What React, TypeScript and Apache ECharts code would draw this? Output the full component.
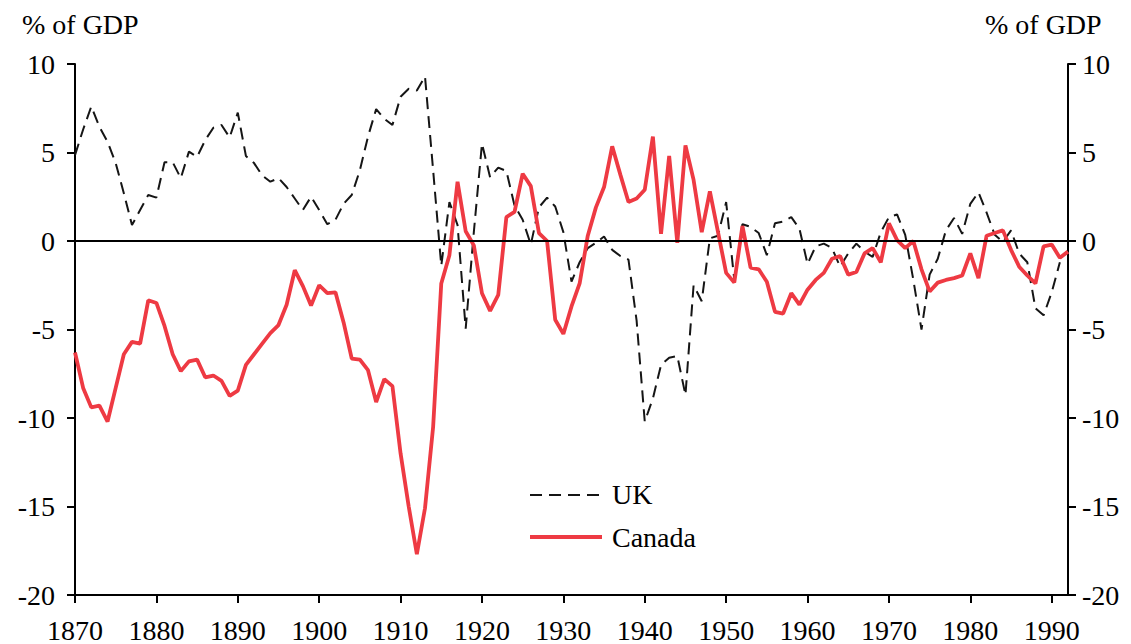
import React, { useEffect, useRef } from "react";
import * as echarts from "echarts";

const START_YEAR = 1870;
const X_MIN = 1870;
const X_MAX = 1992;

// UK current account, % of GDP, 1870-1991
const ukValues = [
  4.85, 6.3, 7.6, 6.45, 5.6, 4.4, 2.7, 0.9, 1.75, 2.6,
  2.45, 4.45, 4.45, 3.55, 5.05, 4.75, 5.7, 6.4, 6.55, 5.85,
  7.25, 4.8, 4.4, 3.7, 3.35, 3.55, 3.05, 2.4, 1.75, 2.5,
  1.75, 0.95, 1.2, 2.1, 2.6, 4.0, 5.9, 7.45, 6.9, 6.55,
  8.15, 8.6, 8.5, 9.3, 4.0, -1.4, 2.2, 0.9, -4.95, 0.5,
  5.5, 3.6, 4.15, 3.95, 2.0, 1.2, -0.2, 1.9, 2.45, 1.95,
  0.5, -2.3, -1.2, -0.4, -0.1, 0.25, -0.5, -0.85, -1.05, -4.5,
  -10.2, -8.9, -7.0, -6.6, -6.5, -8.7, -2.5, -3.4, 0.15, 0.3,
  2.2, -2.2, 0.95, 0.8, 0.45, -0.8, 1.0, 1.1, 1.35, 0.7,
  -1.3, -0.3, -0.15, -0.4, -1.45, -0.7, -0.15, -0.6, -0.9, 0.5,
  1.35, 1.5, 0.35, -2.2, -5.0, -1.9, -1.0, 0.6, 1.3, 0.4,
  2.1, 2.75, 1.6, 0.35, -0.05, 0.6, -0.7, -1.2, -3.8, -4.2,
  -2.9, -1.2,
];

// Canada current account, % of GDP, 1870-1992
const canadaValues = [
  -6.3, -8.3, -9.4, -9.3, -10.2, -8.3, -6.4, -5.7, -5.8, -3.35,
  -3.5, -4.8, -6.4, -7.35, -6.8, -6.7, -7.7, -7.6, -7.9, -8.75,
  -8.45, -7.0, -6.4, -5.8, -5.2, -4.75, -3.6, -1.65, -2.55, -3.65,
  -2.5, -2.95, -2.9, -4.6, -6.65, -6.7, -7.3, -9.1, -7.8, -8.2,
  -12.0, -15.0, -17.7, -15.1, -10.5, -2.4, -0.8, 3.35, 0.55, -0.25,
  -2.95, -3.95, -3.05, 1.35, 1.65, 3.8, 3.1, 0.45, 0.0, -4.45,
  -5.25, -3.7, -2.4, 0.3, 1.9, 3.05, 5.35, 3.75, 2.2, 2.4,
  2.9, 5.9, 0.4, 4.8, -0.1, 5.4, 3.45, 0.5, 2.8, 0.5,
  -1.8, -2.35, 0.85, -1.5, -1.6, -2.3, -4.0, -4.1, -2.95, -3.6,
  -2.75, -2.2, -1.8, -1.0, -0.85, -1.9, -1.75, -0.7, -0.4, -1.2,
  1.0, 0.05, -0.4, 0.0, -1.6, -2.85, -2.35, -2.2, -2.1, -1.95,
  -0.7, -2.1, 0.3, 0.45, 0.6, -0.5, -1.45, -1.95, -2.4, -0.3,
  -0.2, -0.95, -0.6,
];

const xTickYears = [1870, 1880, 1890, 1900, 1910, 1920, 1930, 1940, 1950, 1960, 1970, 1980, 1990];
const yMin = -20;
const yMax = 10;
const yStep = 5;

const FONT = "'Liberation Serif', 'Times New Roman', serif";

export default function App() {
  const ref = useRef<HTMLDivElement>(null);

  useEffect(() => {
    if (!ref.current) return;
    const chart = echarts.init(ref.current, null, { renderer: "svg" });

    const ukData = ukValues.map((v, i) => [START_YEAR + i, v]);
    const canadaData = canadaValues.map((v, i) => [START_YEAR + i, v]);

    const axisLine = { show: true, lineStyle: { color: "#000", width: 2 } };
    const axisTick = { show: true, length: 8, lineStyle: { color: "#000", width: 2 } };
    const labelStyle = { color: "#000", fontFamily: FONT, fontSize: 28 };

    chart.setOption({
      animation: false,
      backgroundColor: "#fff",
      grid: { left: 75, right: 63, top: 64, bottom: 48, containLabel: false },
      xAxis: {
        type: "value",
        min: X_MIN,
        max: X_MAX,
        interval: 10,
        axisLine: { ...axisLine, onZero: false },
        axisTick: { ...axisTick, customValues: xTickYears },
        axisLabel: { ...labelStyle, margin: 21, customValues: xTickYears, formatter: (v: number) => String(v) },
        splitLine: { show: false },
      },
      yAxis: [
        {
          type: "value",
          position: "left",
          min: yMin,
          max: yMax,
          interval: yStep,
          axisLine,
          axisTick,
          axisLabel: { ...labelStyle, margin: 20 },
          splitLine: { show: false },
        },
        {
          type: "value",
          position: "right",
          min: yMin,
          max: yMax,
          interval: yStep,
          axisLine,
          axisTick,
          axisLabel: { ...labelStyle, margin: 14 },
          splitLine: { show: false },
        },
      ],
      series: [
        {
          name: "UK",
          type: "line",
          data: ukData,
          symbol: "none",
          lineStyle: { color: "#151515", width: 2, type: [12, 7] },
          z: 3,
          markLine: {
            silent: true,
            symbol: "none",
            label: { show: false },
            lineStyle: { color: "#000", width: 2, type: "solid" },
            data: [{ yAxis: 0 }],
          },
        },
        {
          name: "Canada",
          type: "line",
          data: canadaData,
          symbol: "none",
          lineStyle: { color: "#ee3a43", width: 3.8 },
          z: 4,
        },
      ],
      graphic: [
        {
          type: "text",
          left: 22,
          top: 10,
          style: { text: "% of GDP", fill: "#000", fontFamily: FONT, fontSize: 28 },
        },
        {
          type: "text",
          left: 985,
          top: 10,
          style: { text: "% of GDP", fill: "#000", fontFamily: FONT, fontSize: 28 },
        },
        {
          type: "line",
          shape: { x1: 530, y1: 495, x2: 602, y2: 495 },
          style: { stroke: "#151515", lineWidth: 2, lineDash: [12, 7] },
        },
        {
          type: "text",
          x: 612,
          y: 494,
          style: { text: "UK", fill: "#000", fontFamily: FONT, fontSize: 28, verticalAlign: "middle" },
        },
        {
          type: "line",
          shape: { x1: 530, y1: 537, x2: 602, y2: 537 },
          style: { stroke: "#ee3a43", lineWidth: 3.8 },
        },
        {
          type: "text",
          x: 612,
          y: 537,
          style: { text: "Canada", fill: "#000", fontFamily: FONT, fontSize: 28, verticalAlign: "middle" },
        },
      ],
    });

    return () => chart.dispose();
  }, []);

  return (
    <div
      ref={ref}
      style={{ position: "fixed", left: 0, top: 0, width: 1131, height: 644, background: "#fff" }}
    />
  );
}
